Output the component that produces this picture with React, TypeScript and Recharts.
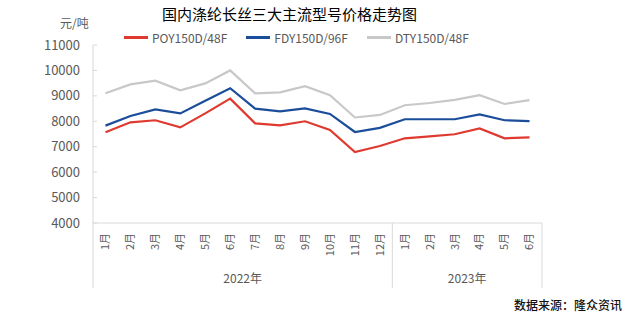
import React from 'react';
import { LineChart, Line, XAxis, YAxis, Legend } from 'recharts';

const months = ['1月', '2月', '3月', '4月', '5月', '6月', '7月', '8月', '9月', '10月', '11月', '12月', '1月', '2月', '3月', '4月', '5月', '6月'];
const years = ['2022年', '2022年', '2022年', '2022年', '2022年', '2022年', '2022年', '2022年', '2022年', '2022年', '2022年', '2022年', '2023年', '2023年', '2023年', '2023年', '2023年', '2023年'];
const poy = [7570, 7960, 8040, 7760, 8310, 8890, 7920, 7840, 8000, 7660, 6790, 7030, 7330, 7410, 7490, 7720, 7330, 7370];
const fdy = [7830, 8210, 8470, 8310, 8810, 9300, 8500, 8390, 8510, 8290, 7580, 7740, 8080, 8080, 8080, 8270, 8040, 8010];
const dty = [9100, 9450, 9600, 9220, 9490, 10000, 9100, 9140, 9380, 9030, 8150, 8250, 8630, 8720, 8840, 9030, 8680, 8830];
const yTicks = [4000, 5000, 6000, 7000, 8000, 9000, 10000, 11000];
const seriesOrder = ['POY150D/48F', 'FDY150D/96F', 'DTY150D/48F'];

const data = months.map((m, i) => ({
  key: years[i] + m,
  poy: poy[i],
  fdy: fdy[i],
  dty: dty[i],
}));

const FONT = '"Noto Sans CJK SC", "Noto Sans", sans-serif';
const GREY = '#595959';
const AXIS = '#d9d9d9';

const MonthTick = (props: any) => {
  const { x, y, payload, width } = props;
  const i = payload.index;
  const off = width / months.length / 2;
  const first = i === 0 || years[i] !== years[i - 1];
  const last = i === months.length - 1;
  const count = years.filter((v) => v === years[i]).length;
  return (
    <g>
      <text
        x={x}
        y={y + 10}
        transform={`rotate(-90, ${x}, ${y + 10})`}
        textAnchor="end"
        dy="0.35em"
        fontSize={11}
        fill={GREY}
        fontFamily={FONT}
      >
        {months[i]}
      </text>
      {first && (
        <>
          <line x1={x - off} x2={x - off} y1={y} y2={y + 65} stroke={AXIS} />
          <text
            x={x - off + count * off}
            y={y + 60}
            textAnchor="middle"
            fontSize={12}
            fill={GREY}
            fontFamily={FONT}
          >
            {years[i]}
          </text>
        </>
      )}
      {last && <line x1={x + off} x2={x + off} y1={y} y2={y + 65} stroke={AXIS} />}
    </g>
  );
};

const LegendContent = (props: any) => {
  const items = [...(props.payload || [])].sort(
    (a: any, b: any) => seriesOrder.indexOf(a.value) - seriesOrder.indexOf(b.value)
  );
  return (
    <div style={{ display: 'flex', paddingLeft: 124, fontFamily: FONT, fontSize: 12, color: GREY }}>
      {items.map((p: any) => (
        <div key={p.value} style={{ display: 'flex', alignItems: 'center', marginRight: 19 }}>
          <div style={{ width: 24, height: 2.5, background: p.color, marginRight: 4 }} />
          <span>{p.value}</span>
        </div>
      ))}
    </div>
  );
};

export default function App() {
  return (
    <div style={{ position: 'absolute', left: 0, top: 0, width: 633, height: 323, background: '#fff' }}>
      <div style={{ position: 'absolute', left: 162, top: 3, fontFamily: FONT, fontSize: 15, color: '#000' }}>
        国内涤纶长丝三大主流型号价格走势图
      </div>
      <div style={{ position: 'absolute', left: 60, top: 14, fontFamily: FONT, fontSize: 12, color: GREY }}>元/吨</div>
      <div style={{ position: 'absolute', right: 11, top: 296, fontFamily: FONT, fontSize: 12, color: '#111', fontWeight: 500 }}>
        数据来源：隆众资讯
      </div>
      <LineChart width={633} height={323} data={data} margin={{ top: 45, right: 91, left: 0, bottom: 0 }}>
        <XAxis
          dataKey="key"
          scale="band"
          height={100}
          interval={0}
          tickLine={false}
          tickSize={0}
          tickMargin={0}
          stroke={AXIS}
          tick={<MonthTick />}
        />
        <YAxis
          width={93}
          domain={[4000, 11000]}
          ticks={yTicks}
          interval={0}
          stroke={AXIS}
          tickSize={-4}
          tickMargin={17}
          tick={{ fontSize: 13, fill: GREY, fontFamily: FONT }}
        />
        <Legend
          layout="horizontal"
          verticalAlign="middle"
          align="center"
          wrapperStyle={{ top: 29, left: 0, width: 633 }}
          content={<LegendContent />}
        />
        <Line dataKey="poy" name="POY150D/48F" stroke="#df3a2f" strokeWidth={2.2} dot={false} isAnimationActive={false} />
        <Line dataKey="fdy" name="FDY150D/96F" stroke="#1c4d9b" strokeWidth={2.2} dot={false} isAnimationActive={false} />
        <Line dataKey="dty" name="DTY150D/48F" stroke="#c8c8c8" strokeWidth={2.2} dot={false} isAnimationActive={false} />
      </LineChart>
    </div>
  );
}
